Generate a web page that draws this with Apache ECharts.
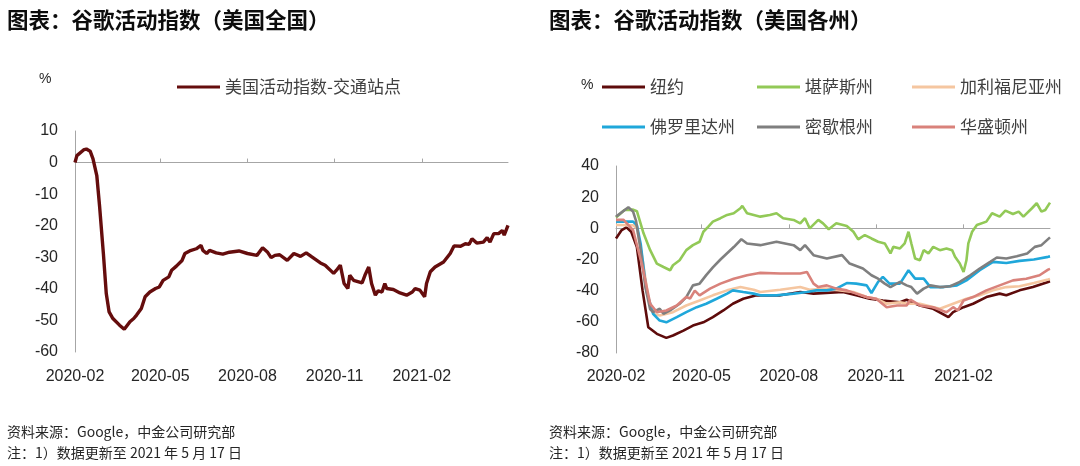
<!DOCTYPE html>
<html>
<head>
<meta charset="utf-8">
<script src="https://cdn.jsdelivr.net/npm/echarts@6/dist/echarts.min.js"></script>
<style>
html,body{margin:0;padding:0;background:#fff;}
#c{width:1080px;height:466px;}
</style>
</head>
<body>
<div id="c"></div>
<script>
// x values: days since 2020-02-15
const tickDays = [0, 90, 182, 274, 366];
const tickLabels = ['2020-02', '2020-05', '2020-08', '2020-11', '2021-02'];
const lastDay = 457; // 2021-05-17

// Left chart: 美国活动指数-交通站点
const usTransit = [
  [0,0],[2,2.2],[9,4.0],[12,4.3],[16,3.6],[19,1.2],[23,-4.1],[26,-14],[30,-29],[33,-41.5],
  [36,-47.3],[40,-49.4],[47,-51.5],[52,-52.8],[58,-50.4],[62,-49.4],[65,-48.3],[70,-46.2],[74,-42.5],[79,-41],
  [85,-39.9],[89,-39.4],[93,-37.3],[99,-36.2],[102,-34.1],[107,-32.8],[113,-31],[116,-28.8],[121,-28],[128,-27.3],
  [133,-26.2],[135,-27.8],[139,-28.8],[142,-27.8],[149,-28.6],[156,-29],[163,-28.4],[173,-28],[182,-28.8],[192,-29.4],
  [198,-27],[203,-28.3],[207,-30.1],[211,-29.4],[216,-29.2],[224,-31],[231,-28.8],[238,-29.7],[244,-28.6],[250,-29.9],
  [259,-31.8],[264,-32.5],[273,-35.1],[276,-34.1],[280,-32.5],[284,-38.3],[288,-39.9],[290,-35.7],[294,-37.3],[303,-38.1],
  [306,-35.7],[310,-33.1],[313,-38.3],[317,-42],[320,-40.6],[324,-41],[327,-38.3],[329,-39.9],[336,-40.2],[343,-41.3],
  [350,-42],[356,-41],[359,-39.9],[364,-40.4],[369,-42.5],[371,-38.3],[375,-34.6],[380,-33.1],[389,-31.5],[396,-28.8],
  [400,-26.4],[407,-26.5],[412,-25.7],[416,-25.9],[419,-24.1],[424,-25.5],[431,-25.2],[435,-23.8],[438,-25.2],[442,-22.5],
  [447,-22.5],[451,-21.5],[453,-23],[457,-19.9]
];

// Right chart: states
const newYork = [
  [0,-6.5],[6,-1.1],[11,0.6],[16,-2.2],[22,-12],[28,-40],[34,-63.5],[36,-64.5],[43,-67.7],[53,-70.3],
  [60,-68.8],[71,-65.6],[81,-62.4],[92,-60.3],[102,-57],[113,-52.7],[123,-48.4],[134,-45.2],[148,-43],[173,-43],
  [194,-40.9],[208,-41.9],[239,-40.9],[253,-43],[267,-45.2],[281,-46.3],[299,-47.4],[306,-45.8],[320,-49.5],[334,-51.6],
  [350,-57],[355,-53.8],[366,-50.6],[376,-48.4],[390,-44.1],[404,-41.9],[411,-43],[425,-39.8],[439,-37.7],[455,-34.4],[457,-34]
];
const kansas = [
  [0,7],[9,11.8],[18,12],[22,11],[29,-3.2],[36,-14],[43,-22.6],[50,-24.8],[57,-26.9],[60,-23.7],
  [67,-20.5],[74,-14],[81,-10.8],[88,-8.6],[92,-2.2],[97,1],[102,4.3],[110,6.5],[117,8.6],[124,9.7],
  [131,12.9],[133,14.4],[138,9.7],[145,8.6],[152,7.5],[162,8.6],[169,9.7],[176,6.5],[187,5.4],[194,3.2],
  [199,6.5],[201,5.8],[204,0],[206,0.5],[213,5.4],[218,3.2],[224,-0.6],[232,3.2],[243,1.5],[250,-2.2],
  [255,-7.1],[262,-4.3],[269,-6.5],[276,-8.6],[283,-9.7],[289,-16.1],[292,-11.9],[299,-12.9],[304,-9.7],[308,-2.2],
  [311,-9.7],[315,-19.4],[320,-20.5],[324,-14],[329,-16.1],[334,-11.9],[341,-14],[348,-12.9],[354,-14],[357,-18.3],
  [362,-22.6],[366,-28],[369,-20.5],[371,-9.7],[375,-2.2],[380,2.1],[390,4.3],[396,9.7],[404,7.5],[410,11.4],
  [418,9.2],[424,10.7],[429,7.5],[438,12.9],[443,16.1],[448,10.7],[452,11.8],[457,16.5]
];
const california = [
  [0,2.1],[18,2],[22,0],[28,-20],[34,-45],[40,-55],[46,-55.9],[60,-53.8],[74,-49.5],[88,-46.3],
  [102,-43],[117,-39.8],[131,-37.7],[145,-39.4],[152,-40.9],[173,-39.4],[194,-37.7],[204,-39.4],[222,-38.7],[236,-39.8],
  [250,-40.9],[264,-44.1],[274,-45.2],[285,-48.4],[299,-47.4],[308,-48.4],[320,-48.4],[341,-51.6],[355,-48.4],[369,-45.2],
  [383,-43],[397,-39.8],[411,-37.7],[425,-37.2],[440,-35.1],[455,-32.9],[457,-32.5]
];
const florida = [
  [0,4.3],[18,4.3],[22,2],[26,-10],[32,-40],[39,-54.8],[46,-59.2],[53,-60.3],[64,-57],[74,-53.8],
  [85,-50.6],[95,-48.4],[106,-45.2],[117,-41.9],[123,-39.8],[134,-40.9],[145,-41.9],[152,-43],[169,-43],[187,-41.9],
  [201,-40.9],[211,-39.8],[222,-39.8],[232,-38.7],[243,-35.1],[253,-35.5],[264,-36.6],[269,-41.5],[276,-34.4],[281,-31.2],
  [288,-35.5],[299,-35.5],[308,-26.9],[315,-32.3],[324,-32.3],[331,-37.7],[345,-37.7],[359,-36.6],[369,-33.4],[383,-26.9],
  [397,-21.5],[411,-22.2],[425,-20.9],[440,-20],[455,-18.3],[457,-18]
];
const michigan = [
  [0,7.5],[13,13.5],[18,10.7],[21,5],[26,-14],[31,-38],[36,-52],[39,-53.8],[46,-51.6],[50,-54.8],
  [57,-52.7],[67,-48.4],[74,-44.1],[81,-36.6],[88,-35.5],[95,-30],[102,-25],[110,-20],[117,-16],[124,-12],
  [132,-7],[138,-9.7],[152,-10.8],[169,-8.6],[187,-10.8],[194,-14],[199,-10.8],[208,-17.2],[222,-19.4],[238,-17.2],
  [246,-22.6],[260,-25.8],[269,-30.1],[276,-32.3],[283,-35.5],[289,-37.7],[299,-34.4],[306,-36.6],[311,-37.7],[317,-41.9],
  [324,-38.7],[331,-36.6],[341,-37.7],[352,-37.2],[362,-34.4],[373,-30.1],[383,-25.8],[394,-21.5],[401,-18.7],[411,-19.4],
  [422,-17.9],[433,-16.1],[441,-11.9],[448,-10.8],[457,-5.8]
];
const washington = [
  [0,5.4],[8,5.4],[18,-1.1],[28,-25],[36,-48.4],[43,-53.8],[53,-52.7],[64,-49.5],[74,-44.1],[78,-45],
  [83,-40],[88,-43],[99,-38.7],[110,-35.5],[124,-32.3],[138,-30.1],[148,-29],[152,-28.6],[173,-29],[194,-29],
  [201,-28],[208,-35.5],[213,-37.7],[222,-36.6],[232,-38.7],[243,-39.8],[253,-41.9],[264,-44.1],[274,-45.2],[285,-50.6],
  [296,-49.5],[306,-49.5],[310,-45.8],[320,-49.5],[334,-50.6],[348,-53.8],[355,-50.6],[360,-52.7],[366,-46.3],[376,-44.1],
  [390,-39.8],[404,-36.6],[418,-33.4],[432,-32.3],[446,-30.1],[455,-26.5],[457,-26]
];

const stateNames = ['纽约', '堪萨斯州', '加利福尼亚州', '佛罗里达州', '密歇根州', '华盛顿州'];
const stateData = [newYork, kansas, california, florida, michigan, washington];
const stateColors = ['#5e0b0b', '#92c957', '#f5c6a0', '#1fa7da', '#7f7f7f', '#d9827b'];

const CJK = '"Noto Sans CJK SC", "Noto Sans", sans-serif';
const NUM = '"Liberation Sans", "Noto Sans CJK SC", sans-serif';
const AXIS_COLOR = '#a6a6a6';
const TEXT = '#262626';

const chart = echarts.init(document.getElementById('c'), null, {renderer: 'canvas'});

function labelFormatter(v) {
  const i = tickDays.indexOf(Math.round(v));
  return i >= 0 ? tickLabels[i] : '';
}
function xAxesFor(gridIndex, margin) {
  return [
    {
      gridIndex, type: 'value', min: 0, max: lastDay, position: 'bottom',
      axisLine: {show: false, onZero: false}, axisTick: {show: false}, splitLine: {show: false},
      axisLabel: {customValues: tickDays, formatter: labelFormatter, margin: margin,
        fontSize: 16, color: TEXT, fontFamily: NUM, showMinLabel: true, showMaxLabel: true}
    },
    {
      gridIndex, type: 'value', min: 0, max: lastDay, position: 'bottom',
      axisLine: {show: true, onZero: true, lineStyle: {color: AXIS_COLOR, width: 1}},
      axisTick: {show: true, inside: true, length: 4, customValues: tickDays, lineStyle: {color: AXIS_COLOR}},
      axisLabel: {show: false}, splitLine: {show: false}
    }
  ];
}
function yAxisFor(gridIndex, min, max, interval) {
  return {
    gridIndex, type: 'value', min, max, interval,
    axisLine: {show: true, onZero: false, lineStyle: {color: AXIS_COLOR, width: 1}},
    axisTick: {show: false}, splitLine: {show: false},
    axisLabel: {fontSize: 16, color: TEXT, fontFamily: NUM, margin: 17}
  };
}

const legendCols = [597, 752, 907];
const legendRows = [72, 112];
const legends = [{
  data: ['美国活动指数-交通站点'], left: 172, top: 72, icon: 'rect', itemWidth: 43, itemHeight: 3, itemGap: 0,
  textStyle: {fontSize: 17, color: '#404040', fontFamily: CJK, lineHeight: 20}
}];
stateNames.forEach((n, i) => {
  legends.push({
    data: [n], left: legendCols[i % 3], top: legendRows[Math.floor(i / 3)],
    icon: 'rect', itemWidth: 43, itemHeight: 3, itemGap: 0,
    textStyle: {fontSize: 17, color: '#404040', fontFamily: CJK, lineHeight: 20}
  });
});

const series = [{
  name: '美国活动指数-交通站点', type: 'line', xAxisIndex: 0, yAxisIndex: 0,
  data: usTransit, showSymbol: false, symbol: 'none',
  lineStyle: {color: '#650d0d', width: 3.4}, itemStyle: {color: '#650d0d'}
}];
stateNames.forEach((n, i) => {
  series.push({
    name: n, type: 'line', xAxisIndex: 2, yAxisIndex: 1,
    data: stateData[i], showSymbol: false, symbol: 'none',
    lineStyle: {color: stateColors[i], width: 2.6}, itemStyle: {color: stateColors[i]}
  });
});

chart.setOption({
  animation: false,
  backgroundColor: '#ffffff',
  grid: [
    {left: 75, top: 131, width: 433, height: 221},
    {left: 616, top: 166, width: 434, height: 187}
  ],
  xAxis: [...xAxesFor(0, 17), ...xAxesFor(1, 16)],
  yAxis: [yAxisFor(0, -60, 10, 10), yAxisFor(1, -80, 40, 20)],
  legend: legends,
  series: series,
  graphic: [
    {type: 'text', left: 7, top: 9, style: {text: '图表：谷歌活动指数（美国全国）', font: 'bold 21.5px ' + CJK, fill: '#0d0d0d'}},
    {type: 'text', left: 549, top: 9, style: {text: '图表：谷歌活动指数（美国各州）', font: 'bold 21.5px ' + CJK, fill: '#0d0d0d'}},
    {type: 'text', left: 39, top: 72, style: {text: '%', font: '14px ' + NUM, fill: TEXT}},
    {type: 'text', left: 581, top: 78, style: {text: '%', font: '14px ' + NUM, fill: TEXT}},
    {type: 'text', left: 7, top: 425, style: {text: '资料来源：Google，中金公司研究部', font: '14px ' + CJK, fill: '#262626'}},
    {type: 'text', left: 7, top: 446, style: {text: '注：1）数据更新至 2021 年 5 月 17 日', font: '14px ' + CJK, fill: '#262626'}},
    {type: 'text', left: 549, top: 425, style: {text: '资料来源：Google，中金公司研究部', font: '14px ' + CJK, fill: '#262626'}},
    {type: 'text', left: 549, top: 446, style: {text: '注：1）数据更新至 2021 年 5 月 17 日', font: '14px ' + CJK, fill: '#262626'}}
  ]
});
</script>
</body>
</html>
